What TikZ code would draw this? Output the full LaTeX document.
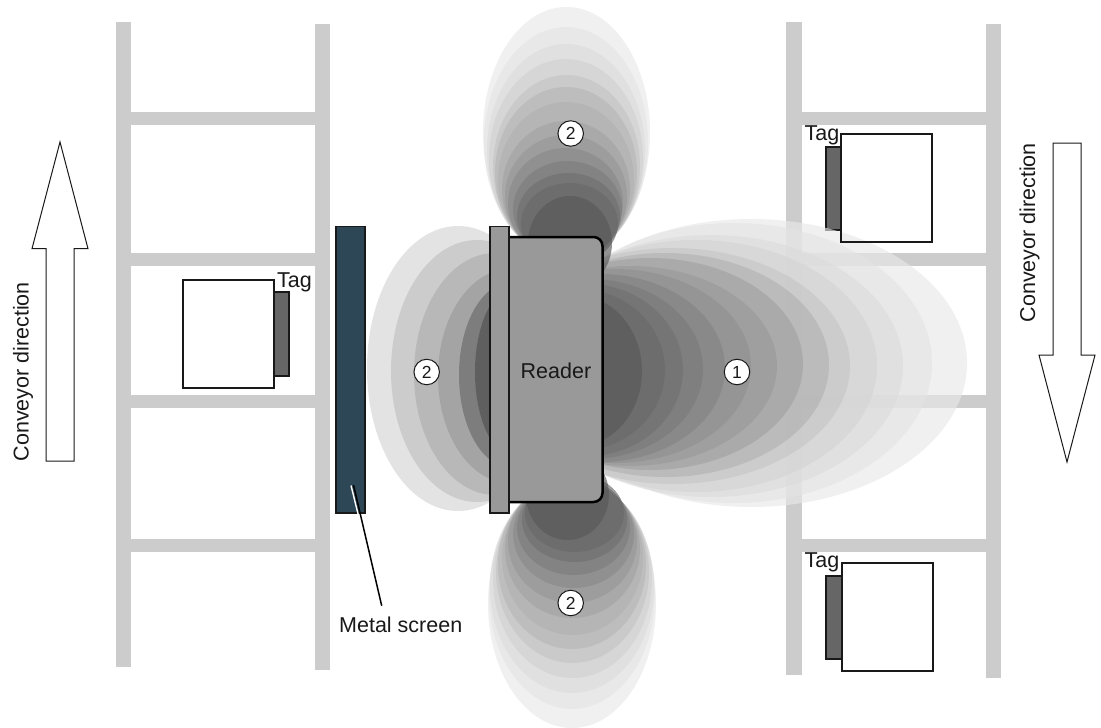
\documentclass[tikz,border=0pt]{standalone}
\usepackage{fontspec}
\setmainfont{Liberation Sans}
\definecolor{rail}{HTML}{CCCCCC}
\definecolor{tagfill}{HTML}{666666}
\definecolor{readerfill}{HTML}{999999}
\definecolor{screenfill}{HTML}{2D4756}
\tikzset{
  rail/.style={fill=rail,draw=none},
  lobe/.style={fill opacity=.65,draw=none},
  boxfill/.style={fill=white,draw=none},
  boxline/.style={draw=black!90,line width=1.7pt},
  tagbox/.style={fill=tagfill,draw=black!90,line width=1.7pt},
  label/.style={inner sep=0pt,font=\fontsize{21.5}{24}\selectfont,text=black!90},
  number/.style={circle,draw=black!90,fill=white,line width=1pt,minimum size=25.5pt,inner sep=0pt,font=\fontsize{17.5}{20}\selectfont,text=black!90},
  flow/.style={draw=black!90,fill=white,line width=1pt,line join=miter},
}
\begin{document}
\begin{tikzpicture}[x=1pt,y=-1pt]
\useasboundingbox (0,0) rectangle (1101,728);
\fill[white] (0,0) rectangle (1101,728);
% ladders
\foreach \xa/\xb/\ya/\yb in {115.5/130.5/22/667,315/330/24/670,786/802/22/675,986/1001/24/678}
  \fill[rail] (\xa,\ya) rectangle (\xb,\yb);
\foreach \ya in {111.5,253,395,539}{
  \fill[rail] (130,\ya) rectangle (316,\ya+13);
  \fill[rail] (801,\ya) rectangle (987,\ya+13);
}
% tags and boxes (fill below the lobes)
\draw[tagbox] (274,292) rectangle (289,376);
\fill[boxfill] (183,280) rectangle (274,388);
\draw[boxline] (183,280) rectangle (274,388);
\draw[tagbox] (826,147) rectangle (841,230);
\fill[boxfill] (841,134) rectangle (932,242);
\draw[tagbox] (826,576) rectangle (842,659);
\fill[boxfill] (842,563) rectangle (933,671);
\draw[boxline] (842,563) rectangle (933,671);
% right lobe
\foreach \cx/\rx/\cy/\ry/\p in {
  751/216/363/144/9, 734/198/363/140/10.7, 711/192/366/131/13.8, 696/181/366/126/17,
  673/177/366/118/22.5, 665/164/365/112/30.3, 650/153/364/106/36.3, 630/147/366/100/39.6,
  615/136/366/97/43.3, 600/125/368/94/48.4, 590/113/369/90/51.9, 585/98/370/86.5/55.8,
  578/87/370/81/58.5, 575/67/371/76/65.3}
  \fill[lobe,black!\p] (\cx,\cy) ellipse [x radius=\rx pt,y radius=\ry pt];
% top lobe
\foreach \l/\r/\t/\bt/\p in {
  483/650/7/258/9, 484/648/27/258/10.7, 487/645/44/258/13.8, 489/643/59/258/17.6, 493/640/75/258/22.9,
  495/637/87/258/28.2, 498/634/102/258/30.3, 502/630/121/258/35.9, 505/627/135/258/40.6, 508/623/148/258/45.9,
  513/622/161/258/51, 517/620/173/260/56, 521/618/183/264/58.8, 528/612/196/290/65.3}{
  \pgfmathsetmacro\cx{(\l+\r)/2}\pgfmathsetmacro\rx{(\r-\l)/2}
  \pgfmathsetmacro\cy{(\t+\bt)/2}\pgfmathsetmacro\ry{(\bt-\t)/2}
  \fill[lobe,black!\p] (\cx,\cy) ellipse [x radius=\rx pt,y radius=\ry pt];
}
% bottom lobe
\foreach \l/\r/\tp/\b/\p in {
  488/656/480/728/9, 489/655/480/709/10.7, 490/654/480/693/13.8, 493/652/480/678/17.6, 496/649/480/663/22.9,
  498/646/480/649/28.2, 502/643/480/635/30.3, 505/640/480/618/35.9, 508/637/480/603/40.6, 513/634/480/588/45.9,
  517/630/480/575/51, 522/627/478/562/56, 525/624/474/552/58.8, 526/609/450/540/65.3}{
  \pgfmathsetmacro\cx{(\l+\r)/2}\pgfmathsetmacro\rx{(\r-\l)/2}
  \pgfmathsetmacro\cy{(\b+\tp)/2}\pgfmathsetmacro\ry{(\b-\tp)/2}
  \fill[lobe,black!\p] (\cx,\cy) ellipse [x radius=\rx pt,y radius=\ry pt];
}
% left lobe
\foreach \cx/\rx/\cy/\ry/\c in {
  458/91/368.5/142.5/E3E3E3, 477/86/371/131/CCCCCC, 495/81/374/121/B8B8B8,
  510/72/376/107/A4A4A4, 510/51/375/92/7D7D7D, 515/40/372/85/5F5F5F}{
  \definecolor{lobecol}{HTML}{\c}
  \fill[lobecol] (\cx,\cy) ellipse [x radius=\rx pt,y radius=\ry pt];
}
% box outline over the lobe
\draw[boxline] (841,134) rectangle (932,242);
% reader
\draw[fill=readerfill,draw=black,line width=2.5pt,rounded corners=9pt]
  (500,237) -- (602.5,237) -- (602.5,502) -- (500,502);
\draw[fill=readerfill,draw=black!90,line width=1.7pt] (490,226.5) rectangle (509,513);
\node[label,anchor=base west] (reader) at (520.5,378) {Reader};
% metal screen
\draw[fill=screenfill,draw=black!90,line width=1.7pt] (336,226.5) rectangle (365,513);
\node[label,anchor=base west] (screenlabel) at (339,632) {Metal screen};
\coordinate (screenpoint) at (353.5,485);
\coordinate (leaderend) at (381.7,605.7);
\draw[white,line width=1.4pt] (351,485.5) -- (363,534);
\draw[black,line width=1.5pt] (screenpoint) -- (leaderend);
% numbers
\node[number] (n1) at (737,372) {1};
\node[number] (n2a) at (426.7,372) {2};
\node[number] (n2b) at (570.7,133.5) {2};
\node[number] (n2c) at (570.7,603) {2};
% tag labels
\node[label,anchor=base west] (tagl) at (277,287) {Tag};
\node[label,anchor=base west] (tagu) at (804.5,140.5) {Tag};
\node[label,anchor=base west] (tagd) at (804.5,567.5) {Tag};
% arrows
\draw[flow] (60,142) -- (88,248.7) -- (74,248.7) -- (74,461) -- (46,461) -- (46,248.7) -- (32,248.7) -- cycle;
\draw[flow] (1067,462) -- (1095,355) -- (1081,355) -- (1081,143) -- (1053,143) -- (1053,355) -- (1039,355) -- cycle;
\node[label,anchor=base west,rotate=90] (dirl) at (28.5,461.5) {Conveyor direction};
\node[label,anchor=base west,rotate=90] (dirr) at (1035,322.5) {Conveyor direction};
\end{tikzpicture}
\end{document}
